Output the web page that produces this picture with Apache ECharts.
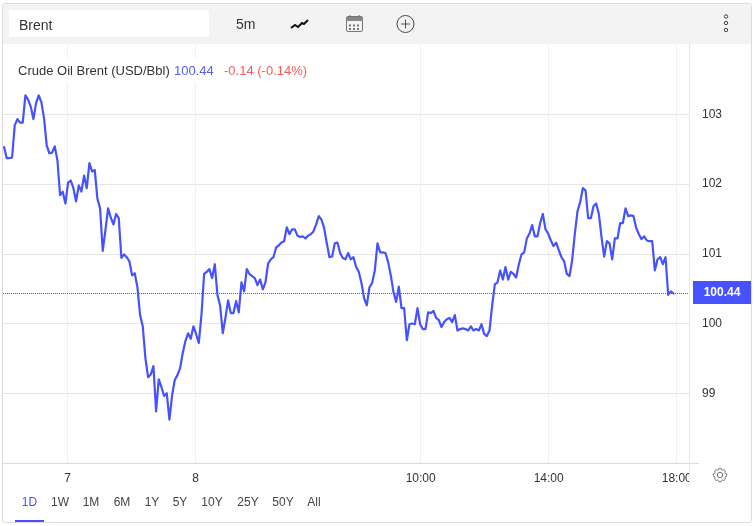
<!DOCTYPE html>
<html><head><meta charset="utf-8">
<style>html,body{margin:0;padding:0;background:#fff}#c{width:755px;height:526px}</style>
<script src="https://cdn.jsdelivr.net/npm/echarts@6/dist/echarts.min.js"></script>
</head><body><div id="c"></div>
<script>
var symbolName = 'Brent';
var intervalName = '5m';
var seriesName = 'Crude Oil Brent (USD/Bbl)';
var lastPrice = 100.44;
var changeText = '-0.14 (-0.14%)';
var rangeNames = ['1D','1W','1M','6M','1Y','5Y','10Y','25Y','50Y','All'];
var yTicks = [99,100,101,102,103];
var xTickMinutes = [-62,178,600,840,1080];
var xTickLabels = ['7','8','10:00','14:00','18:00'];
var startMinute = -181;
var stepMinutes = 5;
var prices = [
102.53,102.37,102.37,102.38,102.84,102.93,102.88,102.88,103.27,103.21,103.11,102.93,103.16,103.27,103.17,102.94,102.55,102.44,102.45,102.54,
102.34,101.84,101.89,101.72,102.02,102.05,101.94,101.75,101.98,101.89,102.12,101.94,102.30,102.18,102.20,101.79,101.65,101.04,101.34,101.65,
101.52,101.42,101.57,101.51,100.94,100.99,100.95,100.89,100.69,100.72,100.52,100.12,99.96,99.50,99.23,99.27,99.39,98.74,99.20,99.09,
98.96,99.00,98.62,98.97,99.19,99.26,99.36,99.58,99.75,99.86,99.78,99.96,99.85,99.72,100.12,100.71,100.74,100.78,100.65,100.85,
100.41,100.26,99.86,100.08,100.33,100.15,100.15,100.32,100.16,100.59,100.46,100.78,100.71,100.68,100.65,100.55,100.63,100.49,100.59,100.86,
100.92,100.95,101.09,101.12,101.16,101.18,101.38,101.28,101.35,101.35,101.26,101.24,101.25,101.22,101.26,101.28,101.32,101.42,101.54,101.49,
101.37,101.15,100.95,100.96,101.15,101.16,101.01,100.94,100.92,101.01,100.92,100.95,100.81,100.74,100.58,100.36,100.26,100.52,100.58,100.76,
101.15,101.02,101.02,101.01,100.88,100.69,100.45,100.31,100.53,100.22,100.22,99.76,99.99,100.00,99.99,100.22,99.99,99.92,99.92,100.16,
100.15,100.18,100.08,100.05,99.95,100.02,100.06,100.08,100.02,100.12,99.90,99.92,99.93,99.92,99.90,99.96,99.90,99.92,99.90,99.99,
99.85,99.82,99.90,100.26,100.56,100.59,100.76,100.63,100.81,100.63,100.74,100.71,100.66,100.85,100.99,101.02,101.22,101.29,101.41,101.25,
101.25,101.44,101.57,101.35,101.29,101.19,101.11,101.16,101.05,100.95,100.89,100.71,100.68,100.91,101.29,101.61,101.74,101.94,101.91,101.51,
101.51,101.68,101.72,101.57,101.24,100.96,101.18,101.15,100.92,101.22,101.22,101.44,101.44,101.65,101.54,101.55,101.54,101.37,101.28,101.21,
101.25,101.19,101.18,101.18,100.76,100.92,100.95,100.85,100.95,100.41,100.46,100.43
];

var BLUE = '#4652ff', FONT = 'Arial, "Liberation Sans", sans-serif';
var tabX = [29.5,60,91,122,152,180,212,248,283,314];
var lineData = prices.map(function(p,i){ return [startMinute + i*stepMinutes, p]; });

function txt(x,y,s,fill,extra){
  var st = {x:x,y:y,text:s,fill:fill,font:'13px '+FONT,textVerticalAlign:'middle',textAlign:'left'};
  if(extra) for(var k in extra) st[k]=extra[k];
  return {type:'text',z:50,silent:true,style:st};
}
function rect(x,y,w,h,fill,z,stroke){
  return {type:'rect',z:z||40,silent:true,shape:{x:x,y:y,width:w,height:h},style:{fill:fill,stroke:stroke||null}};
}
function ln(x1,y1,x2,y2,c,w,z){
  return {type:'line',z:z||45,silent:true,shape:{x1:x1,y1:y1,x2:x2,y2:y2},style:{stroke:c,lineWidth:w||1}};
}
var gearPts = [[-1.4,-8],[1.4,-8],[1.9,-6.4],[3.4,-5.8],[4.9,-6.6],[6.9,-4.6],[6.1,-3.1],[6.7,-1.6],[8.3,-1.1],[8.3,1.7],[6.7,2.2],[6.1,3.7],[6.9,5.2],[4.9,7.2],[3.4,6.4],[1.9,7],[1.4,8.6],[-1.4,8.6],[-1.9,7],[-3.4,6.4],[-4.9,7.2],[-6.9,5.2],[-6.1,3.7],[-6.7,2.2],[-8.3,1.7],[-8.3,-1.1],[-6.7,-1.6],[-6.1,-3.1],[-6.9,-4.6],[-4.9,-6.6],[-3.4,-5.8],[-1.9,-6.4]];
var g = [];
g.push({type:'rect',z:1,silent:true,shape:{x:2.5,y:3.5,width:749,height:519,r:2},style:{fill:'none',stroke:'#dcdcdc',lineWidth:1}});
g.push(rect(3,4,748,40,'#f3f3f3',40));
g.push(rect(9,10,200,27,'#ffffff',41));
g.push(txt(19,26.5,symbolName,'#333',{font:'14px '+FONT}));
g.push(txt(236,25.5,intervalName,'#333',{font:'14px '+FONT}));
g.push({type:'polyline',z:45,silent:true,shape:{points:[[291,28],[295,25],[298,27],[302,23],[304,24],[308,20]]},style:{stroke:'#111',lineWidth:2,fill:'none'}});
g.push({type:'rect',z:45,silent:true,shape:{x:346.5,y:16.5,width:16,height:15,r:1.5},style:{fill:'none',stroke:'#777',lineWidth:1}});
g.push(rect(346,17,17,4,'#888',46));
g.push(ln(350,15,350,18,'#666',1));g.push(ln(359,15,359,18,'#666',1));
[24.5,28].forEach(function(yy){[349,353,357].forEach(function(xx){g.push(rect(xx,yy,2,2,'#777',46));});});
g.push({type:'circle',z:45,silent:true,shape:{cx:405.5,cy:24,r:8.5},style:{fill:'none',stroke:'#444',lineWidth:1}});
g.push(ln(401,24,410,24,'#555',1));g.push(ln(405.5,19.5,405.5,28.5,'#555',1));
[16.5,23,30].forEach(function(yy){g.push({type:'circle',z:45,silent:true,shape:{cx:726,cy:yy,r:1.7},style:{fill:'none',stroke:'#444',lineWidth:1}});});
g.push(rect(14,60,296,23,'#ffffff',30));
g.push(txt(18,71.5,seriesName,'#333'));
g.push(txt(174,71.5,lastPrice.toFixed(2),'#5a5cf5'));
g.push(txt(224,71.5,changeText,'#f45b5b'));
g.push(rect(689.5,465,12,21,'#ffffff',44));
g.push(ln(689.5,44,689.5,486,'#e3e6ee',1,46));
g.push(ln(3,463.5,699,463.5,'#d8dce6',1,46));
g.push(rect(693,281,58,23,BLUE,47));
g.push(txt(722,292.8,lastPrice.toFixed(2),'#ffffff',{textAlign:'center',font:'bold 12px '+FONT}));
rangeNames.forEach(function(n,i){
  g.push(txt(tabX[i],502.5,n,i===0?BLUE:'#444',{textAlign:'center',font:'12px '+FONT}));
});
g.push(rect(15,520,29,2,BLUE,47));
g.push({type:'circle',z:45,silent:true,shape:{cx:720,cy:475,r:2.7},style:{fill:'none',stroke:'#777',lineWidth:1}});
g.push({type:'polygon',z:45,silent:true,shape:{points:gearPts.map(function(p){return [720+p[0]*0.8,474.8+p[1]*0.8];})},style:{fill:'none',stroke:'#777',lineWidth:1}});

var chart = echarts.init(document.getElementById('c'),null,{renderer:'canvas'});
chart.setOption({
  animation:false,
  backgroundColor:'#fff',
  grid:{left:3,right:66,top:44.5,bottom:63,containLabel:false},
  xAxis:{
    type:'value',min:-183,max:1103,
    axisLine:{show:false},
    axisTick:{show:false,customValues:xTickMinutes},
    axisLabel:{customValues:xTickMinutes,color:'#333',fontFamily:FONT,fontSize:12,margin:10,hideOverlap:false,showMinLabel:true,showMaxLabel:true,
      formatter:function(v){return xTickLabels[xTickMinutes.indexOf(v)]||'';}},
    splitLine:{show:true,lineStyle:{color:'#eef0f4',width:1}}
  },
  yAxis:{
    type:'value',position:'right',min:98,max:104,interval:1,
    axisLine:{show:false},
    axisTick:{show:true,length:10,customValues:yTicks,lineStyle:{color:'#e6e6e6'}},
    axisLabel:{customValues:yTicks,color:'#333',fontFamily:FONT,fontSize:12,margin:13,formatter:function(v){return String(v);}},
    splitLine:{show:true,lineStyle:{color:'#e6e6e6',width:1}}
  },
  series:[{
    type:'line',name:seriesName,data:lineData,showSymbol:false,smooth:false,clip:true,
    lineStyle:{color:BLUE,width:2.2,join:'round',cap:'round'},
    markLine:{silent:true,symbol:'none',label:{show:false},
      lineStyle:{color:'#4652ff',type:'dotted',width:1},
      data:[{yAxis:lastPrice}]}
  }],
  graphic:g
});
</script></body></html>
